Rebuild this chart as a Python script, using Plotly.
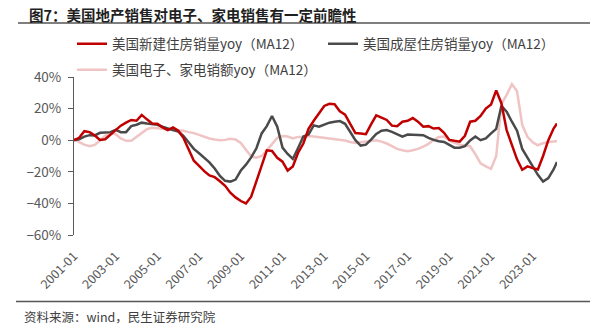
import plotly.graph_objects as go
import pandas as pd

# quarterly sample dates (2001-01 .. 2024-01) plus final 2024-03
dates = list(pd.date_range("2001-01-01", "2024-01-01", freq="QS").strftime("%Y-%m-%d")) + ["2024-03-01"]

new_home = [0, 1.5, 5.7, 5.1, 3.0, 0.2, 0.6, 3.6, 6.8, 9.2, 11.1, 12.8, 12.3, 16.0, 13.2, 10.6, 10.4, 8.1, 6.4, 8.1,
            6.0, 1.5, -5.7, -13.0, -16.2, -19.6, -22.3, -23.4, -26.0, -28.9, -33.2, -36.2, -38.5, -40.0, -35.8, -26.0,
            -14.9, -6.4, -6.8, -11.1, -13.6, -19.2, -16.6, -7.9, -2.1, 7.2, 12.3, 17.0, 21.7, 23.0,
            22.8, 18.3, 16.2, 10.4, 4.5, 4.3, 3.8, 10.0, 15.7, 14.3, 12.8, 9.2, 8.9, 11.7, 12.3, 14.0, 11.7, 8.5, 8.9,
            7.4, 7.7, 4.7, 0.2, -0.4, -0.9, 2.8, 11.7, 12.3, 15.3, 20.0, 22.6, 31.5, 23.4, 6.4, -2.8, -12.1, -18.7,
            -16.6, -17.7, -18.5, -10.0, 0.0, 7.4, 10.6]

existing_home = [0, 0.6, 2.3, 3.2, 3.0, 4.7, 4.9, 5.1, 6.6, 5.1, 5.1, 8.9, 9.8, 11.1, 10.6, 10.2, 9.8, 8.5, 7.2, 6.4,
                 5.5, 2.8, -1.3, -5.5, -8.3, -11.1, -14.0, -17.9, -22.6, -25.7, -26.2, -24.9, -19.2, -15.5, -10.9,
                 -5.1, 4.3, 8.9, 15.3, 8.5, -4.7, -8.7, -11.9, -4.9, 2.3, 3.6, 9.4, 8.5, 9.8, 11.1,
                 11.7, 12.1, 10.4, 5.3, 0, -3.4, -2.8, 0.4, 4.0, 6.0, 6.4, 5.3, 4.0, 2.3, 3.6, 3.6, 3.4, 3.2, 1.5, 0.2,
                 -0.6, -1.1, -3.0, -4.7, -4.7, -3.8, -0.2, 2.3, 0, 1.1, 4.3, 7.2, 21.7, 18.1, 11.7, 6.0, -5.5, -11.5,
                 -16.6, -21.9, -26.2, -24.0, -18.5, -13.8]

electronics = [1.1, -1.3, -2.8, -3.8, -3.0, -0.2, 2.8, 4.5, 3.8, 1.1, -0.4, -0.4, 1.9, 4.7, 7.0, 7.9, 7.7, 7.2, 6.8,
               6.4, 6.4, 6.0, 5.1, 4.5, 3.4, 2.1, 1.1, 0.4, 0, 0.2, 0.9, 0.4, -1.7, -6.0, -10.2, -11.1, -10.0, -6.4,
               -2.1, 1.5, 2.6, 2.3, 1.1, 2.1, 2.1, 2.6, 2.3, 1.9, 1.5, 1.1,
               0.6, 0.2, -0.2, -1.1, -1.7, -1.3, -0.9, -0.2, 0, -0.9, -2.1, -3.8, -5.5, -6.4, -7.0, -6.4, -5.5, -4.0,
               -2.3, 0.2, 2.1, 2.3, -0.2, -1.7, -2.8, -3.4, -3.8, -8.9, -14.7, -16.6, -18.1, -10.0, 22.8, 28.7, 35.5,
               31.0, 9.6, 2.1, -1.3, -3.2, -1.9, -1.1, -0.6, -0.6]

names = ["美国新建住房销量yoy（MA12）", "美国成屋住房销量yoy（MA12）", "美国电子、家电销额yoy（MA12）"]
colors = ["#C00000", "#4A4A4A", "#F0C4C4"]

title = "图7：美国地产销售对电子、家电销售有一定前瞻性"
source = "资料来源：wind，民生证券研究院"

FONT = "Microsoft YaHei, Noto Sans CJK SC, sans-serif"

fig = go.Figure()
fig.add_trace(go.Scatter(x=dates, y=electronics, name=names[2], mode="lines",
                         line=dict(color=colors[2], width=2.5), legend="legend3"))
fig.add_trace(go.Scatter(x=dates, y=existing_home, name=names[1], mode="lines",
                         line=dict(color=colors[1], width=2.5), legend="legend2"))
fig.add_trace(go.Scatter(x=dates, y=new_home, name=names[0], mode="lines",
                         line=dict(color=colors[0], width=2.5), legend="legend"))

W, H = 604, 330
L, R, T, B = 74, 557, 77, 235


def px(x):
    return (x - L) / (R - L)


def py(y):
    return (B - y) / (B - T)


leg_common = dict(bgcolor="rgba(0,0,0,0)", font=dict(family=FONT, size=13.5, color="#404040"),
                  xanchor="left", yanchor="middle", orientation="h")

fig.update_layout(
    width=W, height=H,
    margin=dict(l=L, r=W - R, t=T, b=H - B),
    plot_bgcolor="white", paper_bgcolor="white",
    font=dict(family=FONT, color="#595959"),
    showlegend=True,
    legend=dict(x=px(72), y=py(44), **leg_common),
    legend2=dict(x=px(323), y=py(44), **leg_common),
    legend3=dict(x=px(72), y=py(70), **leg_common),
    xaxis=dict(type="date", range=["2001-01-01", "2024-03-01"], showgrid=False, zeroline=False,
               showline=False, tick0="2001-01-01", dtick="M24", tickformat="%Y-%m",
               tickangle=-45, ticks="outside", ticklen=8, tickcolor="rgba(0,0,0,0)",
               tickfont=dict(family=FONT, size=12.5, color="#595959")),
    xaxis2=dict(type="date", matches="x", overlaying="x", anchor="free", position=0.6,
                showgrid=False, zeroline=False, showline=True, linecolor="#4A4A4A", linewidth=1.3,
                tick0="2001-01-01", dtick="M24", ticks="outside", ticklen=4, tickcolor="#4A4A4A",
                showticklabels=False),
    yaxis=dict(range=[-60, 40], dtick=20, ticksuffix="%", showgrid=False, zeroline=False,
               showline=True, linecolor="#595959", linewidth=1, ticks="outside", ticklen=5,
               tickcolor="#595959", ticklabelstandoff=4,
               tickfont=dict(family=FONT, size=13.5, color="#595959")),
)

fig.add_annotation(text=title, x=px(27), y=py(15), xref="paper", yref="paper", xanchor="left",
                   yanchor="middle", showarrow=False,
                   font=dict(family=FONT, size=14.5, color="#1F1F1F", weight="bold"))
fig.add_annotation(text=source, x=px(22), y=py(316), xref="paper", yref="paper", xanchor="left",
                   yanchor="middle", showarrow=False,
                   font=dict(family=FONT, size=12.5, color="#404040"))
fig.add_shape(type="line", xref="paper", yref="paper", x0=px(18), x1=px(590), y0=py(23), y1=py(23),
              line=dict(color="#555555", width=1.6))
fig.add_shape(type="line", xref="paper", yref="paper", x0=px(16), x1=px(590), y0=py(301.5), y1=py(301.5),
              line=dict(color="#555555", width=1.6))

fig.write_html("out.html")
